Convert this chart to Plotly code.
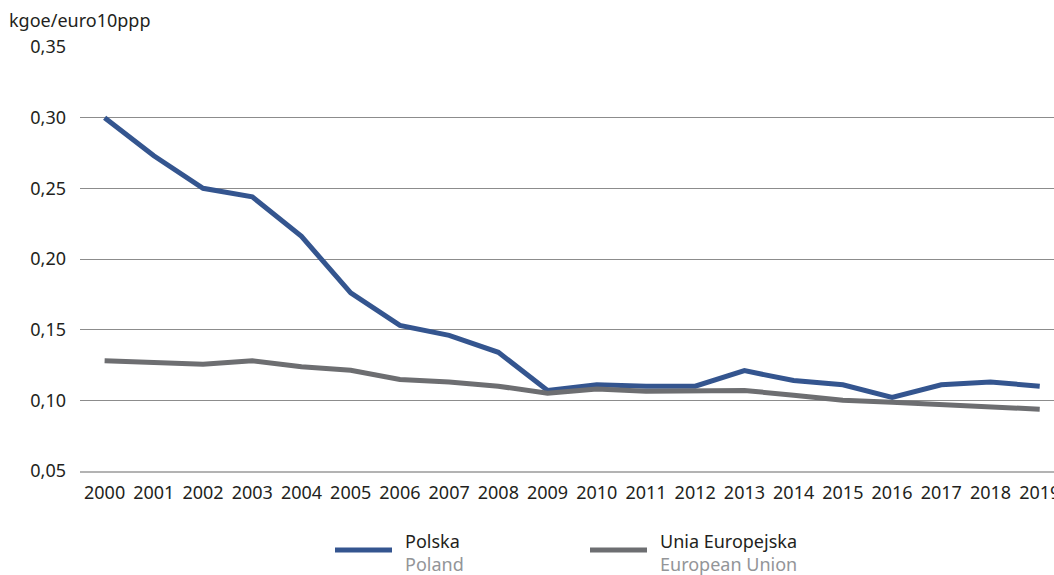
import plotly.graph_objects as go

years = [str(y) for y in range(2000, 2020)]
polska = [0.300, 0.273, 0.250, 0.244, 0.216, 0.176, 0.153, 0.146, 0.134, 0.107,
          0.111, 0.110, 0.110, 0.121, 0.114, 0.111, 0.102, 0.111, 0.113, 0.110]
ue = [0.128, 0.1265, 0.1256, 0.128, 0.1237, 0.1213, 0.1147, 0.113, 0.110, 0.105,
      0.108, 0.1064, 0.107, 0.107, 0.1036, 0.100, 0.0987, 0.097, 0.0958, 0.0937]
yticks = [0.05, 0.10, 0.15, 0.20, 0.25, 0.30, 0.35]
ytick_labels = ["0,05", "0,10", "0,15", "0,20", "0,25", "0,30", "0,35"]
series_pl = ["Polska", "Unia Europejska"]
series_en = ["Poland", "European Union"]
colors = ["#34558f", "#6d6e71"]

FONT = "Noto Sans"
W, H = 1054, 575
L, R, T, B = 80, 0, 47, 104
pw, ph = W - L - R, H - T - B


def px(x):
    return (x - L) / pw


def py(y):
    return (H - B - y) / ph


fig = go.Figure()
for vals, name, col in zip([polska, ue], series_pl, colors):
    fig.add_trace(go.Scatter(x=years, y=vals, mode="lines", name=name,
                             line=dict(color=col, width=5), showlegend=False))

annotations = [dict(text="kgoe/euro10ppp", xref="paper", yref="paper",
                    x=px(7), y=py(20), xanchor="left", yanchor="middle",
                    showarrow=False, font=dict(size=18, color="#231f20"))]
shapes = []
legend_x = [335, 590]
for i in range(2):
    x0 = legend_x[i]
    shapes.append(dict(type="line", xref="paper", yref="paper",
                       x0=px(x0), x1=px(x0 + 57), y0=py(550), y1=py(550),
                       line=dict(color=colors[i], width=5)))
    annotations.append(dict(text=series_pl[i], xref="paper", yref="paper",
                            x=px(x0 + 68), y=py(541), xanchor="left", yanchor="middle",
                            showarrow=False, font=dict(size=18, color="#231f20")))
    annotations.append(dict(text=series_en[i], xref="paper", yref="paper",
                            x=px(x0 + 68), y=py(564), xanchor="left", yanchor="middle",
                            showarrow=False, font=dict(size=18, color="#939598")))

fig.update_layout(
    width=W, height=H,
    margin=dict(l=L, r=R, t=T, b=B, autoexpand=False),
    paper_bgcolor="white", plot_bgcolor="white",
    font=dict(family=FONT, size=18, color="#231f20"),
    showlegend=False,
    annotations=annotations,
    shapes=shapes,
)
fig.update_xaxes(type="category", range=[-0.5, 19.29], showgrid=False,
                 showline=True, linecolor="#b3b3b3", linewidth=2,
                 ticks="", tickfont=dict(size=18, color="#231f20"), ticklabelstandoff=4)
fig.update_yaxes(range=[0.05, 0.35], tickvals=yticks, ticktext=ytick_labels,
                 showgrid=True, gridcolor="#8c8c8c", gridwidth=1, zeroline=False,
                 ticks="", tickfont=dict(size=18, color="#231f20"), ticklabelstandoff=13)

fig.write_html("out.html", config={"displayModeBar": False},
               post_script="document.body.style.margin='0';document.body.style.overflow='hidden';")
